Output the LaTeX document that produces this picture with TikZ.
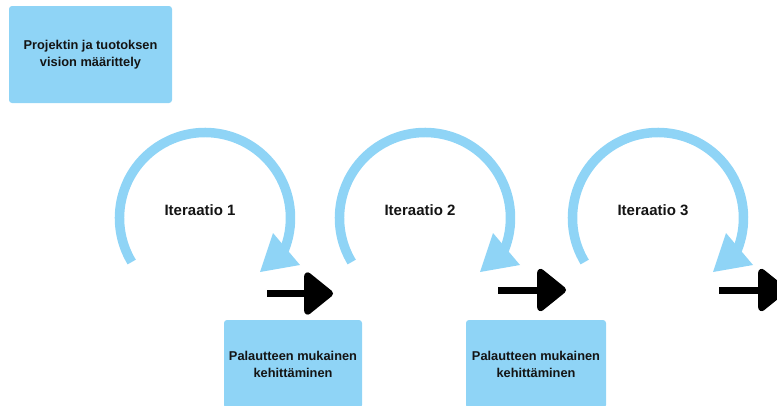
\documentclass[tikz,border=0pt]{standalone}
\usepackage{fontspec}
\setmainfont{Liberation Sans}
\usetikzlibrary{arrows.meta}
\definecolor{lblue}{RGB}{143,212,246}
\definecolor{ink}{RGB}{20,20,20}
\tikzset{
  box/.style={fill=lblue, rounded corners=3pt, align=center, text=ink,
    font=\fontsize{12.8}{17}\selectfont\bfseries, inner sep=0pt},
  itertext/.style={text=ink, font=\fontsize{15}{18}\selectfont\bfseries},
  flow/.style={line width=7pt, draw=black,
    -{Triangle[length=31pt, width=48pt, round]}},
  loopline/.style={draw=lblue, line width=9.5pt},
  % circular iteration arrow, drawn around its centre
  iterloop/.pic={
    \draw[loopline] (211:85.5) arc[start angle=211, end angle=-23, radius=85.5];
    \fill[lblue] (68,-15) -- (95,-47) -- (55,-54) -- cycle;
  }
}
\begin{document}
\begin{tikzpicture}[x=1pt, y=1pt]
\useasboundingbox (0,0) rectangle (777,-405);
\clip (0,0) rectangle (777,-405);

% vision box
\node[box, minimum width=163pt, minimum height=97pt] (vision) at (90.5,-54.5)
  {Projektin ja tuotoksen\\vision määrittely};

% iteration loops
\pic at (205,-218) {iterloop};
\pic at (425,-218) {iterloop};
\pic at (658,-218) {iterloop};
\node[itertext] (it1) at (200,-210) {Iteraatio 1};
\node[itertext] (it2) at (420,-210) {Iteraatio 2};
\node[itertext] (it3) at (653,-210) {Iteraatio 3};

% feedback boxes
\node[box, minimum width=138pt, minimum height=88pt] (fb1) at (293,-364)
  {Palautteen mukainen\\kehittäminen};
\node[box, minimum width=140pt, minimum height=88pt] (fb2) at (536,-364)
  {Palautteen mukainen\\kehittäminen};

% forward arrows
\coordinate (a1s) at (267,-293.5);
\coordinate (a1e) at (333,-293.5);
\coordinate (a2s) at (498,-290);
\coordinate (a2e) at (566,-290);
\coordinate (a3s) at (719,-290);
\coordinate (a3e) at (787,-290);
\draw[flow] (a1s) -- (a1e);
\draw[flow] (a2s) -- (a2e);
\draw[flow] (a3s) -- (a3e);
\end{tikzpicture}
\end{document}
